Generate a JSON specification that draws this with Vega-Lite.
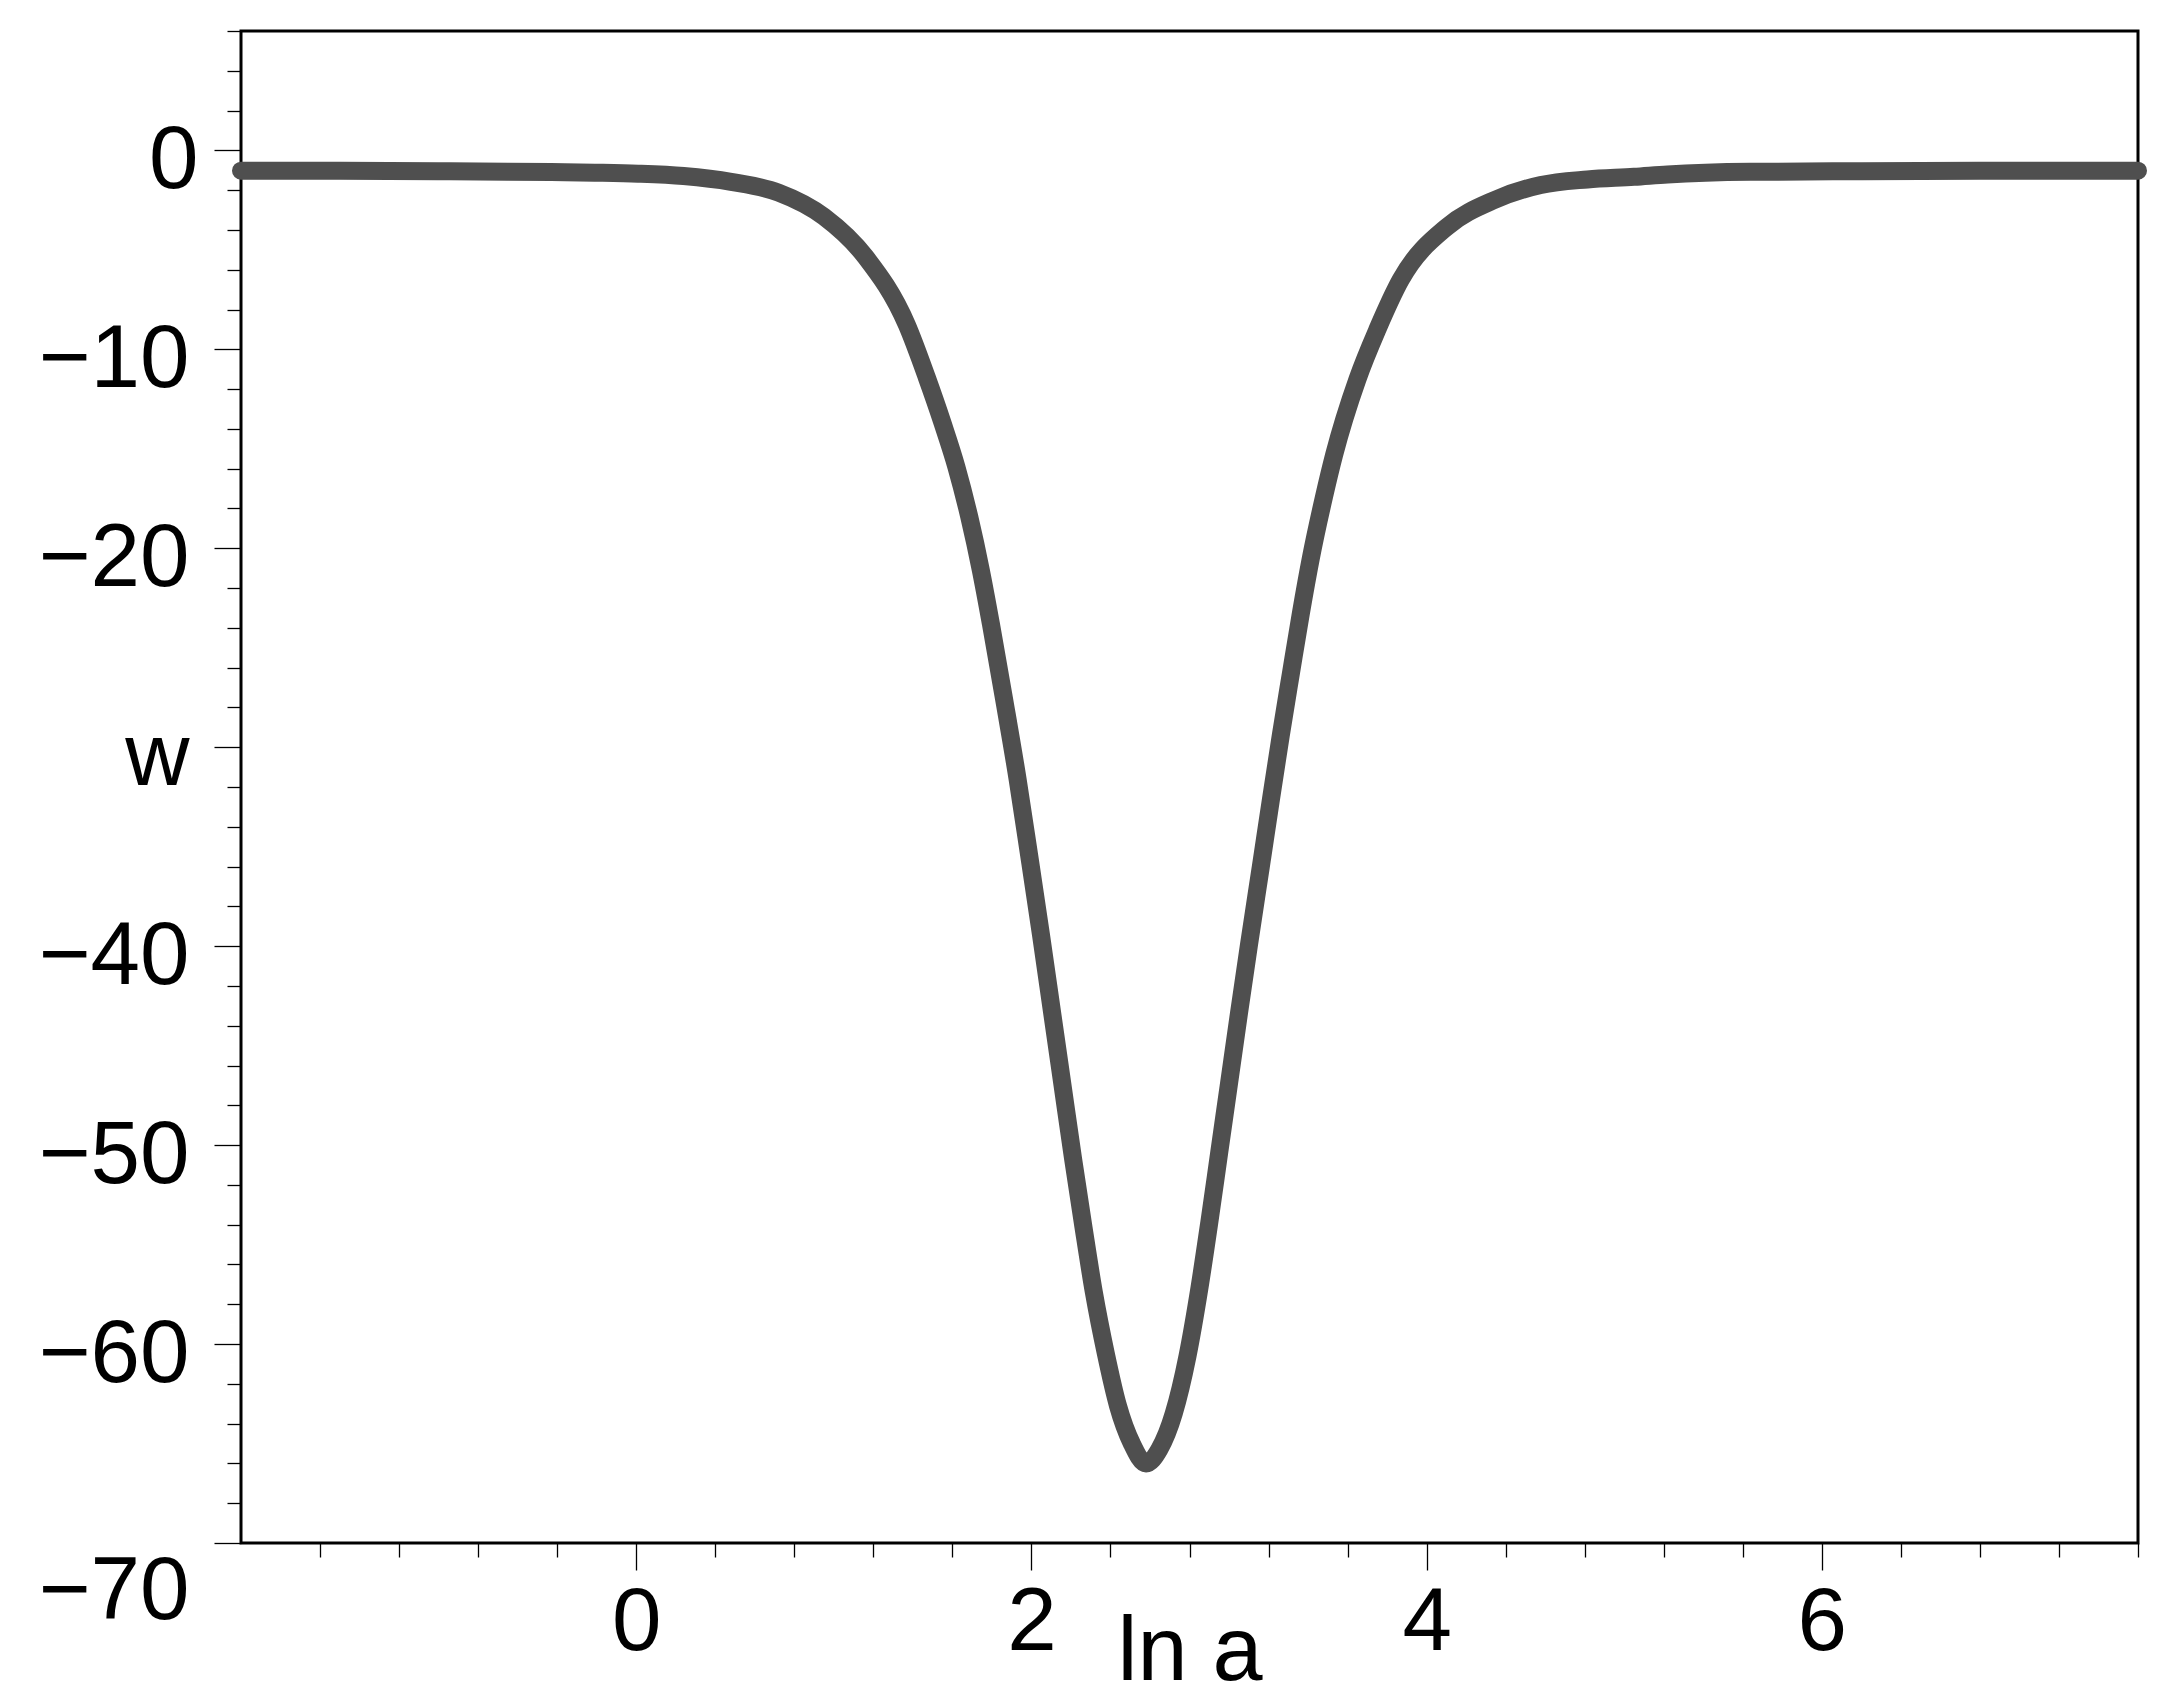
{
  "$schema": "https://vega.github.io/schema/vega-lite/v6.json",
  "width": 1897,
  "height": 1512,
  "autosize": {"type": "none"},
  "padding": {"left": 241, "top": 31, "right": 42, "bottom": 161},
  "background": "white",
  "config": {
    "view": {"stroke": "black", "strokeWidth": 3},
    "axis": {
      "grid": false,
      "domain": false,
      "labelFont": "Liberation Sans",
      "titleFont": "Liberation Sans",
      "labelFontSize": 89,
      "titleFontSize": 90,
      "labelColor": "black",
      "titleColor": "black",
      "tickColor": "black",
      "tickWidth": 1.3,
      "titleFontWeight": "normal",
      "labelFlush": false,
      "labelOverlap": false,
      "labelBound": false
    }
  },
  "data": {
    "values": [
      {"lna": -2.0, "w": -1.02},
      {"lna": -1.5, "w": -1.03},
      {"lna": -1.0, "w": -1.05},
      {"lna": -0.65, "w": -1.07},
      {"lna": -0.43, "w": -1.09},
      {"lna": -0.21, "w": -1.12},
      {"lna": 0.01, "w": -1.17},
      {"lna": 0.24, "w": -1.29},
      {"lna": 0.48, "w": -1.58},
      {"lna": 0.72, "w": -2.12},
      {"lna": 0.95, "w": -3.33},
      {"lna": 1.16, "w": -5.35},
      {"lna": 1.37, "w": -8.78},
      {"lna": 1.47, "w": -11.4},
      {"lna": 1.55, "w": -13.7},
      {"lna": 1.62, "w": -15.9},
      {"lna": 1.685, "w": -18.4},
      {"lna": 1.744, "w": -21.1},
      {"lna": 1.795, "w": -23.8},
      {"lna": 1.862, "w": -27.6},
      {"lna": 1.93, "w": -31.6},
      {"lna": 1.988, "w": -35.4},
      {"lna": 2.048, "w": -39.4},
      {"lna": 2.107, "w": -43.5},
      {"lna": 2.159, "w": -47.1},
      {"lna": 2.211, "w": -50.7},
      {"lna": 2.263, "w": -54.1},
      {"lna": 2.316, "w": -57.4},
      {"lna": 2.377, "w": -60.5},
      {"lna": 2.438, "w": -63.1},
      {"lna": 2.508, "w": -65.0},
      {"lna": 2.58, "w": -66.0},
      {"lna": 2.647, "w": -65.3},
      {"lna": 2.72, "w": -63.5},
      {"lna": 2.79, "w": -60.6},
      {"lna": 2.85, "w": -57.2},
      {"lna": 2.9, "w": -53.9},
      {"lna": 2.95, "w": -50.4},
      {"lna": 3.0, "w": -46.9},
      {"lna": 3.05, "w": -43.4},
      {"lna": 3.1, "w": -40.0},
      {"lna": 3.161, "w": -36.0},
      {"lna": 3.211, "w": -32.7},
      {"lna": 3.262, "w": -29.4},
      {"lna": 3.313, "w": -26.3},
      {"lna": 3.363, "w": -23.3},
      {"lna": 3.414, "w": -20.5},
      {"lna": 3.481, "w": -17.4},
      {"lna": 3.532, "w": -15.3},
      {"lna": 3.65, "w": -11.5},
      {"lna": 3.751, "w": -9.0},
      {"lna": 3.869, "w": -6.5},
      {"lna": 4.105, "w": -3.83},
      {"lna": 4.342, "w": -2.5},
      {"lna": 4.578, "w": -1.74},
      {"lna": 4.814, "w": -1.46},
      {"lna": 5.05, "w": -1.33},
      {"lna": 5.219, "w": -1.21},
      {"lna": 5.64, "w": -1.08},
      {"lna": 6.2, "w": -1.05},
      {"lna": 6.8, "w": -1.03},
      {"lna": 7.6, "w": -1.02}
    ]
  },
  "mark": {
    "type": "line",
    "color": "#4f4f4f",
    "strokeWidth": 18,
    "strokeCap": "round",
    "strokeJoin": "round",
    "interpolate": "monotone",
    "clip": false
  },
  "encoding": {
    "x": {
      "field": "lna",
      "type": "quantitative",
      "scale": {"domain": [-2, 7.6], "nice": false, "zero": false},
      "axis": {
        "title": "ln a",
        "values": [-1.6, -1.2, -0.8, -0.4, 0, 0.4, 0.8, 1.2, 1.6, 2, 2.4, 2.8, 3.2, 3.6, 4, 4.4, 4.8, 5.2, 5.6, 6, 6.4, 6.8, 7.2, 7.6],
        "tickSize": {"condition": {"test": "abs(datum.value/2 - round(datum.value/2)) < 0.01", "value": 27}, "value": 14},
        "labelExpr": "abs(datum.value/2 - round(datum.value/2)) < 0.01 ? format(round(datum.value), 'd') : ''",
        "labelPadding": 9,
        "titleY": 136,
        "titleBaseline": "alphabetic"
      }
    },
    "y": {
      "field": "w",
      "type": "quantitative",
      "scale": {"domain": [-70, 6], "nice": false, "zero": false},
      "axis": {
        "title": null,
        "values": [-70, -68, -66, -64, -62, -60, -58, -56, -54, -52, -50, -48, -46, -44, -42, -40, -38, -36, -34, -32, -30, -28, -26, -24, -22, -20, -18, -16, -14, -12, -10, -8, -6, -4, -2, 0, 2, 4, 6],
        "tickSize": {"condition": {"test": "datum.value % 10 == 0", "value": 27}, "value": 14},
        "labelExpr": "datum.value == -30 ? 'w' : (datum.value % 10 == 0 ? datum.label : '')",
        "labelPadding": {"condition": {"test": "datum.value == 0", "value": 16}, "value": 25},
        "labelOffset": {"condition": {"test": "datum.value == -70", "value": 5}, "value": 10},
        "labelBaseline": {"condition": {"test": "datum.value == -70", "value": "top"}, "value": "middle"}
      }
    }
  }
}
